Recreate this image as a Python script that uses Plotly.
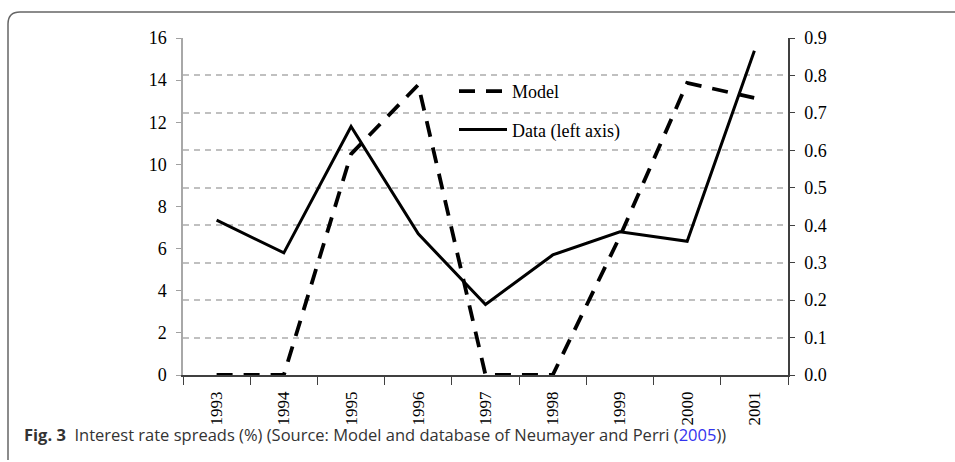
import plotly.graph_objects as go

W, H = 955, 462

years = ["1993", "1994", "1995", "1996", "1997", "1998", "1999", "2000", "2001"]
data_left = [7.35, 5.8, 11.8, 6.7, 3.35, 5.7, 6.8, 6.35, 15.4]
model_right = [0.0, 0.0, 0.59, 0.775, 0.0, 0.0, 0.37, 0.78, 0.74]

left_ticks = [0, 2, 4, 6, 8, 10, 12, 14, 16]
right_ticks = [0.0, 0.1, 0.2, 0.3, 0.4, 0.5, 0.6, 0.7, 0.8, 0.9]


def px(x):
    return x / W


def py(y):
    return 1 - y / H


serif = "Liberation Serif"
sans = "Open Sans"

fig = go.Figure()

fig.add_trace(go.Scatter(
    x=years, y=model_right, yaxis="y2", mode="lines", name="Model",
    legendgroup="m",
    line=dict(color="black", width=3.8, dash="16px,11px"),
))
fig.add_trace(go.Scatter(
    x=years, y=data_left, yaxis="y", mode="lines", name="Data (left axis)",
    legendgroup="d",
    line=dict(color="black", width=3),
))

# outer frame (rounded corner at top left)
r = 12
frame = (f"M {px(8)},{py(460)} L {px(8)},{py(12 + r)} "
         f"Q {px(8)},{py(12)} {px(8 + r)},{py(12)} L {px(960)},{py(12)}")

fig.update_layout(
    template="none",
    width=W, height=H,
    margin=dict(l=0, r=0, t=0, b=0, pad=0),
    plot_bgcolor="white", paper_bgcolor="white",
    font=dict(family=serif, size=17, color="black"),
    showlegend=True,
    legend=dict(
        x=px(454), y=py(73), xanchor="left", yanchor="top",
        bgcolor="rgba(0,0,0,0)", borderwidth=0,
        font=dict(family=serif, size=18, color="black"),
        traceorder="grouped", tracegroupgap=12, itemwidth=48,
    ),
    xaxis=dict(
        type="category", domain=[px(183), px(788)], range=[-0.5, 8.5],
        tickangle=-90, tickson="boundaries", ticks="outside", ticklen=8,
        tickcolor="#404040", showline=True, linecolor="#404040", linewidth=1.5,
        showgrid=False, zeroline=False, automargin=False, ticklabelstandoff=8,
        tickfont=dict(family=serif, size=17),
    ),
    yaxis=dict(
        domain=[py(375), py(38)], range=[0, 16], tickvals=left_ticks,
        ticks="outside", ticklen=5, tickcolor="#a0a0a0",
        showline=True, linecolor="#a8a8a8", linewidth=1.5,
        showgrid=False, zeroline=False, automargin=False, ticklabelstandoff=6,
        tickfont=dict(family=serif, size=18),
    ),
    yaxis2=dict(
        overlaying="y", side="right", range=[0, 0.9], tickvals=right_ticks,
        tickformat=".1f", ticks="outside", ticklen=5, tickcolor="#404040",
        showline=True, linecolor="#404040", linewidth=1.5,
        showgrid=True, gridcolor="#c0c0c0", gridwidth=1.5, griddash="6px,5px",
        zeroline=False, automargin=False, ticklabelstandoff=6,
        tickfont=dict(family=serif, size=18),
    ),
    shapes=[
        dict(type="rect", xref="paper", yref="paper", layer="between",
             x0=px(443), x1=px(640), y0=py(170), y1=py(60),
             fillcolor="white", line=dict(width=0)),
        dict(type="path", xref="paper", yref="paper", path=frame,
             line=dict(color="#666666", width=1.5)),
    ],
    annotations=[
        dict(
            xref="paper", yref="paper", x=px(22), y=py(434),
            xanchor="left", yanchor="middle", showarrow=False,
            text=("<b>Fig. 3</b>  Interest rate spreads (%) (Source: Model and "
                  "database of Neumayer and Perri "
                  "(<span style='color:#3333ee'>2005</span>))"),
            font=dict(family=sans, size=16.5, color="#333333"),
        ),
    ],
)

# page has the browser's default body margin; drop it so the figure sits at 0,0
fig.write_html(
    "out.html",
    config={"displayModeBar": False},
    post_script="document.body.style.margin='0';document.body.style.overflow='hidden';",
)
